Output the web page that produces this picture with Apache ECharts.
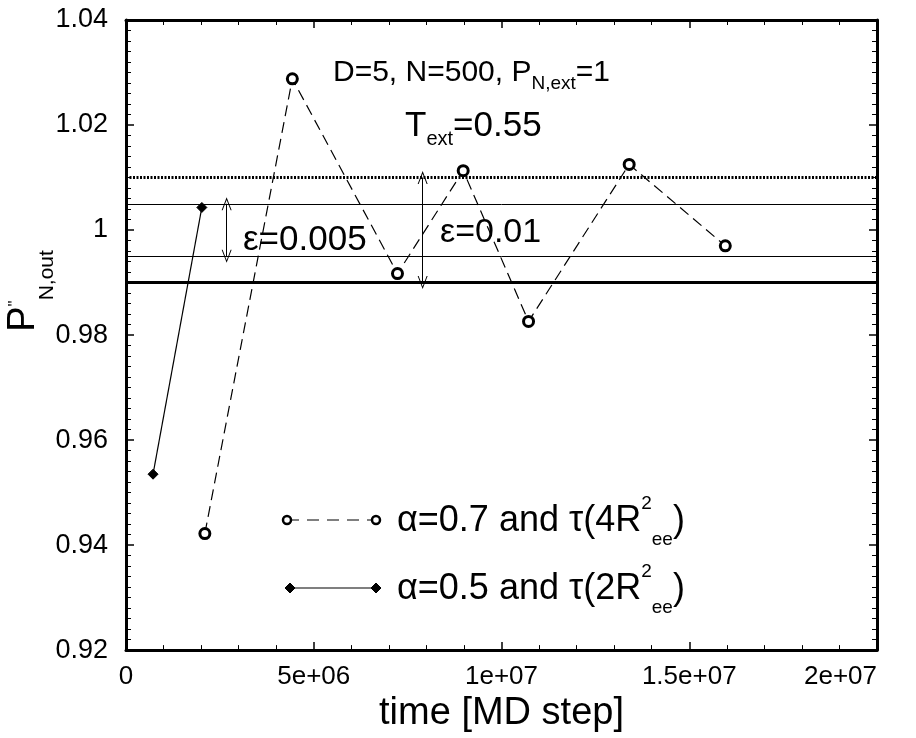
<!DOCTYPE html>
<html><head><meta charset="utf-8">
<script src="https://cdn.jsdelivr.net/npm/echarts@6/dist/echarts.min.js"></script>
<style>html,body{margin:0;padding:0;background:#fff}#c{width:916px;height:738px}</style>
</head><body><div id="c"></div>
<script>
// ---- data ----
const xTickValues = [0, 5e6, 1e7, 1.5e7, 2e7];
const xTickLabels = ['0', '5e+06', '1e+07', '1.5e+07', '2e+07'];
const yTickValues = [0.92, 0.94, 0.96, 0.98, 1.0, 1.02, 1.04];
const yTickLabels = ['0.92', '0.94', '0.96', '0.98', '1', '1.02', '1.04'];

const alpha07Time = [2.10e6, 4.43e6, 7.23e6, 8.98e6, 10.72e6, 13.40e6, 15.96e6];
const alpha07P    = [0.9422, 1.0288, 0.9917, 1.0113, 0.9826, 1.0125, 0.9970];
const alpha05Time = [0.72e6, 2.02e6];
const alpha05P    = [0.9535, 1.0043];

const outerBand = [0.99, 1.01];     // epsilon = 0.01
const innerBand = [0.995, 1.005];   // epsilon = 0.005
const arrowTimes = [2.68e6, 7.9e6]; // positions of the epsilon arrows

const FONT = "'Liberation Sans', Arial, Helvetica, sans-serif";
const BLACK = '#000';
const chev = 'path://M0,0 L5,11 L4,11 L0,2.2 L-4,11 L-5,11 Z';

function lbl(values, labels) {
  return v => {
    for (let i = 0; i < values.length; i++) if (Math.abs(values[i] - v) < 1e-9 * Math.max(1, Math.abs(v))) return labels[i];
    return '';
  };
}

const chart = echarts.init(document.getElementById('c'), null, {renderer: 'canvas'});

const axisCommon = {
  axisLine: {show: true, onZero: false, lineStyle: {color: BLACK, width: 3}},
  axisTick: {show: true, inside: true, length: 8, lineStyle: {color: BLACK, width: 1.5}},
  minorTick: {show: true, length: 5, lineStyle: {color: BLACK, width: 1}},
  splitLine: {show: false},
  minorSplitLine: {show: false}
};

const option = {
  backgroundColor: '#fff',
  animation: false,
  grid: {left: 126, right: 39, top: 20, bottom: 77, containLabel: false},
  xAxis: [
    Object.assign({}, axisCommon, {
      type: 'value', position: 'bottom', min: 0, max: 2e7, interval: 5e6,
      minorTick: Object.assign({}, axisCommon.minorTick, {splitNumber: 5}),
      axisLabel: {show: true, margin: 14, color: BLACK, fontFamily: FONT, fontSize: 26,
        formatter: lbl(xTickValues, xTickLabels), showMinLabel: true, showMaxLabel: true, alignMaxLabel: 'right'},
      name: 'time [MD step]', nameLocation: 'middle', nameGap: 36,
      nameTextStyle: {color: BLACK, fontFamily: FONT, fontSize: 38}
    }),
    Object.assign({}, axisCommon, {
      type: 'value', position: 'top', min: 0, max: 2e7, interval: 5e6,
      minorTick: Object.assign({}, axisCommon.minorTick, {splitNumber: 5}),
      axisLabel: {show: false}
    })
  ],
  yAxis: [
    Object.assign({}, axisCommon, {
      type: 'value', position: 'left', min: 0.92, max: 1.04, interval: 0.02,
      minorTick: Object.assign({}, axisCommon.minorTick, {splitNumber: 10}),
      axisLabel: {show: true, margin: 18, color: BLACK, fontFamily: FONT, fontSize: 27,
        formatter: lbl(yTickValues, yTickLabels), showMinLabel: true, showMaxLabel: true}
    }),
    Object.assign({}, axisCommon, {
      type: 'value', position: 'right', min: 0.92, max: 1.04, interval: 0.02,
      minorTick: Object.assign({}, axisCommon.minorTick, {splitNumber: 10}),
      axisLabel: {show: false}
    })
  ],
  series: [
    {
      name: 'alpha=0.7 and tau(4Ree2)', type: 'line', xAxisIndex: 0, yAxisIndex: 0,
      data: alpha07Time.map((t, i) => [t, alpha07P[i]]),
      symbol: 'circle', symbolSize: 10, z: 5, showSymbol: true, showAllSymbol: true,
      itemStyle: {color: '#fff', borderColor: BLACK, borderWidth: 3},
      lineStyle: {color: BLACK, width: 1.2, type: [11, 6]},
      emphasis: {disabled: true},
      markLine: {
        silent: true, symbol: 'none', animation: false, z: 2, precision: 5,
        label: {show: false}, emphasis: {disabled: true},
        data: [
          {yAxis: outerBand[1], lineStyle: {color: BLACK, width: 3, type: [2, 1.5]}},
          {yAxis: innerBand[1], lineStyle: {color: BLACK, width: 1, type: 'solid'}},
          {yAxis: innerBand[0], lineStyle: {color: BLACK, width: 1, type: 'solid'}},
          {yAxis: outerBand[0], lineStyle: {color: BLACK, width: 3, type: 'solid'}}
        ]
      }
    },
    {
      name: 'alpha=0.5 and tau(2Ree2)', type: 'line', xAxisIndex: 0, yAxisIndex: 0,
      data: alpha05Time.map((t, i) => [t, alpha05P[i]]),
      symbol: 'diamond', symbolSize: 10, z: 5, showSymbol: true, showAllSymbol: true,
      itemStyle: {color: BLACK, borderColor: BLACK, borderWidth: 1},
      lineStyle: {color: BLACK, width: 1.2, type: 'solid'},
      emphasis: {disabled: true},
      markLine: {
        silent: true, symbol: [chev, chev], symbolSize: [10, 13], animation: false, z: 3, precision: 5,
        label: {show: false}, emphasis: {disabled: true},
        lineStyle: {color: BLACK, width: 1, type: 'solid'},
        data: [
          [{coord: [arrowTimes[0], innerBand[1]]}, {coord: [arrowTimes[0], innerBand[0]]}],
          [{coord: [arrowTimes[1], outerBand[1]]}, {coord: [arrowTimes[1], outerBand[0]]}]
        ]
      }
    }
  ],
  graphic: [
    // y-axis title
    {type: 'text', x: 24, y: 291, rotation: Math.PI / 2, z: 10,
      style: {text: '{m|P}{p|\'\'}{s|N,out}', align: 'center', verticalAlign: 'middle', fill: BLACK,
        rich: {
          m: {fontFamily: FONT, fontSize: 38, lineHeight: 68, fill: BLACK},
          p: {fontFamily: FONT, fontSize: 16, lineHeight: 16, verticalAlign: 'top', padding: [18, 0, 0, 0], fill: BLACK},
          s: {fontFamily: FONT, fontSize: 21, lineHeight: 21, verticalAlign: 'bottom', padding: [0, 0, 0, 0], fill: BLACK}
        }}},
    // annotations
    {type: 'text', x: 333, y: 73, z: 10,
      style: {text: '{m|D=5, N=500, P}{s|N,ext}{m|=1}', align: 'left', verticalAlign: 'middle', fill: BLACK,
        rich: {
          m: {fontFamily: FONT, fontSize: 30, lineHeight: 44, fill: BLACK},
          s: {fontFamily: FONT, fontSize: 19, lineHeight: 19, verticalAlign: 'bottom', padding: [0, 0, 2, 0], fill: BLACK}
        }}},
    {type: 'text', x: 405, y: 126, z: 10,
      style: {text: '{m|T}{s|ext}{m|=0.55}', align: 'left', verticalAlign: 'middle', fill: BLACK,
        rich: {
          m: {fontFamily: FONT, fontSize: 35, lineHeight: 50, fill: BLACK},
          s: {fontFamily: FONT, fontSize: 20, lineHeight: 20, verticalAlign: 'bottom', padding: [0, 0, 2, 0], fill: BLACK}
        }}},
    {type: 'text', x: 243, y: 240, z: 10,
      style: {text: 'ε=0.005', font: '35px ' + FONT, fill: BLACK, align: 'left', verticalAlign: 'middle'}},
    {type: 'text', x: 440, y: 233, z: 10,
      style: {text: 'ε=0.01', font: '34px ' + FONT, fill: BLACK, align: 'left', verticalAlign: 'middle'}},
    // legend samples
    {type: 'line', shape: {x1: 287, y1: 520, x2: 376, y2: 520}, style: {stroke: BLACK, lineWidth: 1.2, lineDash: [12, 8]}, z: 10},
    {type: 'circle', shape: {cx: 287, cy: 520, r: 4}, style: {fill: '#fff', stroke: BLACK, lineWidth: 2.5}, z: 11},
    {type: 'circle', shape: {cx: 376, cy: 520, r: 4}, style: {fill: '#fff', stroke: BLACK, lineWidth: 2.5}, z: 11},
    {type: 'line', shape: {x1: 290, y1: 588, x2: 376, y2: 588}, style: {stroke: BLACK, lineWidth: 1.2}, z: 10},
    {type: 'polygon', shape: {points: [[290, 583], [295, 588], [290, 593], [285, 588]]}, style: {fill: BLACK, stroke: BLACK, lineWidth: 1}, z: 11},
    {type: 'polygon', shape: {points: [[376, 583], [381, 588], [376, 593], [371, 588]]}, style: {fill: BLACK, stroke: BLACK, lineWidth: 1}, z: 11},
    {type: 'text', x: 397, y: 521, z: 10,
      style: {text: '{m|α=0.7 and τ(4R}{p|2}{s|ee}{m|)}', align: 'left', verticalAlign: 'middle', fill: BLACK,
        rich: {
          m: {fontFamily: FONT, fontSize: 36, lineHeight: 76, fill: BLACK},
          p: {fontFamily: FONT, fontSize: 19, lineHeight: 19, verticalAlign: 'top', padding: [11, 0, 0, 0], fill: BLACK},
          s: {fontFamily: FONT, fontSize: 19, lineHeight: 19, verticalAlign: 'bottom', padding: [0, 0, 10, 0], fill: BLACK}
        }}},
    {type: 'text', x: 397, y: 589, z: 10,
      style: {text: '{m|α=0.5 and τ(2R}{p|2}{s|ee}{m|)}', align: 'left', verticalAlign: 'middle', fill: BLACK,
        rich: {
          m: {fontFamily: FONT, fontSize: 36, lineHeight: 76, fill: BLACK},
          p: {fontFamily: FONT, fontSize: 19, lineHeight: 19, verticalAlign: 'top', padding: [11, 0, 0, 0], fill: BLACK},
          s: {fontFamily: FONT, fontSize: 19, lineHeight: 19, verticalAlign: 'bottom', padding: [0, 0, 10, 0], fill: BLACK}
        }}}
  ]
};
chart.setOption(option);
</script>
</body></html>
